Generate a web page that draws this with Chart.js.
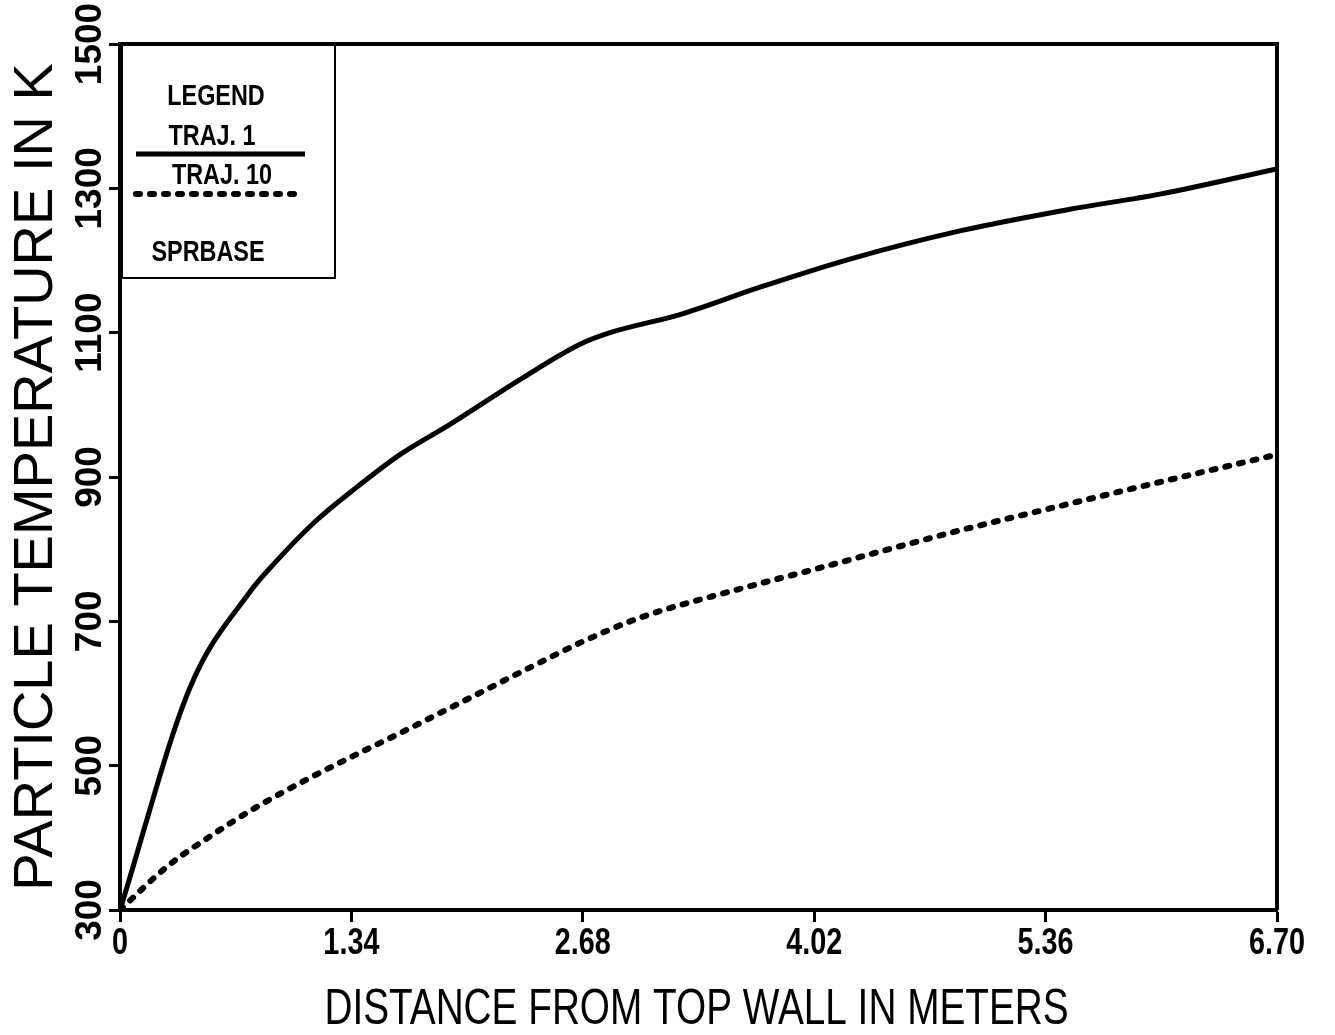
<!DOCTYPE html>
<html>
<head>
<meta charset="utf-8">
<title>Particle temperature</title>
<script src="https://cdn.jsdelivr.net/npm/chart.js@4.4.1/dist/chart.umd.min.js"></script>
<style>
	html, body { margin: 0; padding: 0; background: #fff; }
	#wrap { width: 1335px; height: 1035px; }
</style>
</head>
<body>
<div id="wrap"><canvas id="myChart" width="1335" height="1035"></canvas></div>
<script>
// distance from top wall (m) and particle temperature (K)
const traj1Distance = [0, 0.405, 0.753, 0.90, 1.129, 1.34, 1.621, 1.911, 2.316, 2.664, 2.838, 3.242, 3.706, 4.227, 4.864, 5.50, 6.022, 6.70];
const traj1Temp = [300, 608, 741, 782, 838, 880, 931, 973, 1035, 1084, 1100, 1125, 1163, 1202, 1241, 1271, 1292, 1327];

const traj10Distance = [0, 0.272, 0.521, 0.793, 1.083, 1.390, 1.621, 2.027, 2.432, 2.68, 3.011, 3.590, 4.02, 4.50, 4.864, 5.36, 6.022, 6.70];
const traj10Temp = [300, 360, 402, 443, 481, 518, 545, 594, 643, 672, 705, 745, 772, 803, 826, 855, 893, 931];

const xTicks = [0, 1.34, 2.68, 4.02, 5.36, 6.70];
const yTicks = [300, 500, 700, 900, 1100, 1300, 1500];

const xTitle = "DISTANCE FROM TOP WALL IN METERS";
const yTitle = "PARTICLE TEMPERATURE IN K";
const legendTitle = "LEGEND";
const legendNote = "SPRBASE";

const INK = "#000";
const SANS = "'Liberation Sans', Arial, sans-serif";

function toPoints(xs, ys) {
	return xs.map((x, i) => ({ x: x, y: ys[i] }));
}

// centred text, squeezed sideways by sx and optionally turned
function drawText(ctx, text, x, y, font, sx = 1, angle = 0) {
	ctx.save();
	ctx.translate(x, y);
	if (angle) ctx.rotate(angle);
	ctx.scale(sx, 1);
	ctx.font = font;
	ctx.textAlign = "center";
	ctx.textBaseline = "middle";
	ctx.fillText(text, 0, 0);
	ctx.restore();
}

// box round the plot, tick labels, x title and the legend box
const framePlugin = {
	id: "frame",
	afterDraw(chart) {
		const ctx = chart.ctx;
		const area = chart.chartArea;
		const xScale = chart.scales.x;
		const yScale = chart.scales.y;

		ctx.save();
		ctx.strokeStyle = INK;
		ctx.fillStyle = INK;
		ctx.lineWidth = 4;
		ctx.beginPath();
		ctx.moveTo(area.left, area.top);
		ctx.lineTo(area.right, area.top);
		ctx.lineTo(area.right, area.bottom);
		ctx.stroke();

		yTicks.forEach((v) => {
			drawText(ctx, String(v), 91, yScale.getPixelForValue(v), "bold 37px " + SANS, 1, -Math.PI / 2);
		});
		xTicks.forEach((v) => {
			const label = v === 0 ? "0" : v.toFixed(2);
			drawText(ctx, label, xScale.getPixelForValue(v), 944, "bold 36px " + SANS, 0.8);
		});
		drawText(ctx, xTitle, (area.left + area.right) / 2 - 2, 1010, "50px " + SANS, 0.775);

		// legend
		ctx.lineWidth = 2;
		ctx.strokeRect(area.left + 2, area.top, 213, 234);
		const legendFont = "bold 30px " + SANS;
		drawText(ctx, legendTitle, 216, 97, legendFont, 0.78);
		drawText(ctx, legendNote, 208, 253, legendFont, 0.78);

		const rows = [
			{ ds: chart.data.datasets[0], textX: 212, textY: 137, lineY: 154, x1: 305 },
			{ ds: chart.data.datasets[1], textX: 222, textY: 176, lineY: 194, x1: 300 },
		];
		rows.forEach((row) => {
			drawText(ctx, row.ds.label, row.textX, row.textY, legendFont, 0.78);
			ctx.save();
			ctx.lineWidth = row.ds.borderWidth;
			ctx.lineCap = row.ds.borderCapStyle || "butt";
			ctx.setLineDash(row.ds.borderDash || []);
			ctx.beginPath();
			ctx.moveTo(136, row.lineY);
			ctx.lineTo(row.x1, row.lineY);
			ctx.stroke();
			ctx.restore();
		});
		ctx.restore();
	},
};

const ctx = document.getElementById("myChart");

const chartInstance = new Chart(ctx, {
	type: "line",
	data: {
		datasets: [
			{
				label: "TRAJ. 1",
				data: toPoints(traj1Distance, traj1Temp),
				borderColor: INK,
				borderWidth: 5,
				pointRadius: 0,
				cubicInterpolationMode: "monotone",
			},
			{
				label: "TRAJ. 10",
				data: toPoints(traj10Distance, traj10Temp),
				borderColor: INK,
				borderWidth: 6,
				borderDash: [4, 10],
				borderCapStyle: "round",
				pointRadius: 0,
				cubicInterpolationMode: "monotone",
			},
		],
	},
	options: {
		responsive: false,
		animation: false,
		layout: {
			padding: { top: 44, right: 58, left: 0, bottom: 0 },
		},
		plugins: {
			legend: { display: false },
			tooltip: { enabled: false },
		},
		scales: {
			x: {
				type: "linear",
				min: 0,
				max: 6.7,
				afterBuildTicks: (scale) => {
					scale.ticks = xTicks.map((v) => ({ value: v }));
				},
				afterFit: (scale) => {
					scale.height = 125;
				},
				grid: {
					drawOnChartArea: false,
					drawTicks: true,
					tickLength: 12,
					tickWidth: 3,
					tickColor: INK,
				},
				border: { display: true, color: INK, width: 4 },
				ticks: { display: false },
			},
			y: {
				type: "linear",
				min: 300,
				max: 1500,
				afterBuildTicks: (scale) => {
					scale.ticks = yTicks.map((v) => ({ value: v }));
				},
				afterFit: (scale) => {
					scale.width = 120;
				},
				grid: {
					drawOnChartArea: false,
					drawTicks: true,
					tickLength: 11,
					tickWidth: 3,
					tickColor: INK,
				},
				border: { display: true, color: INK, width: 4 },
				ticks: { display: false },
				title: {
					display: true,
					text: yTitle,
					color: INK,
					padding: { top: 9, bottom: 0 },
					font: { family: SANS, size: 56, lineHeight: 1 },
				},
			},
		},
	},
	plugins: [framePlugin],
});
</script>
</body>
</html>
